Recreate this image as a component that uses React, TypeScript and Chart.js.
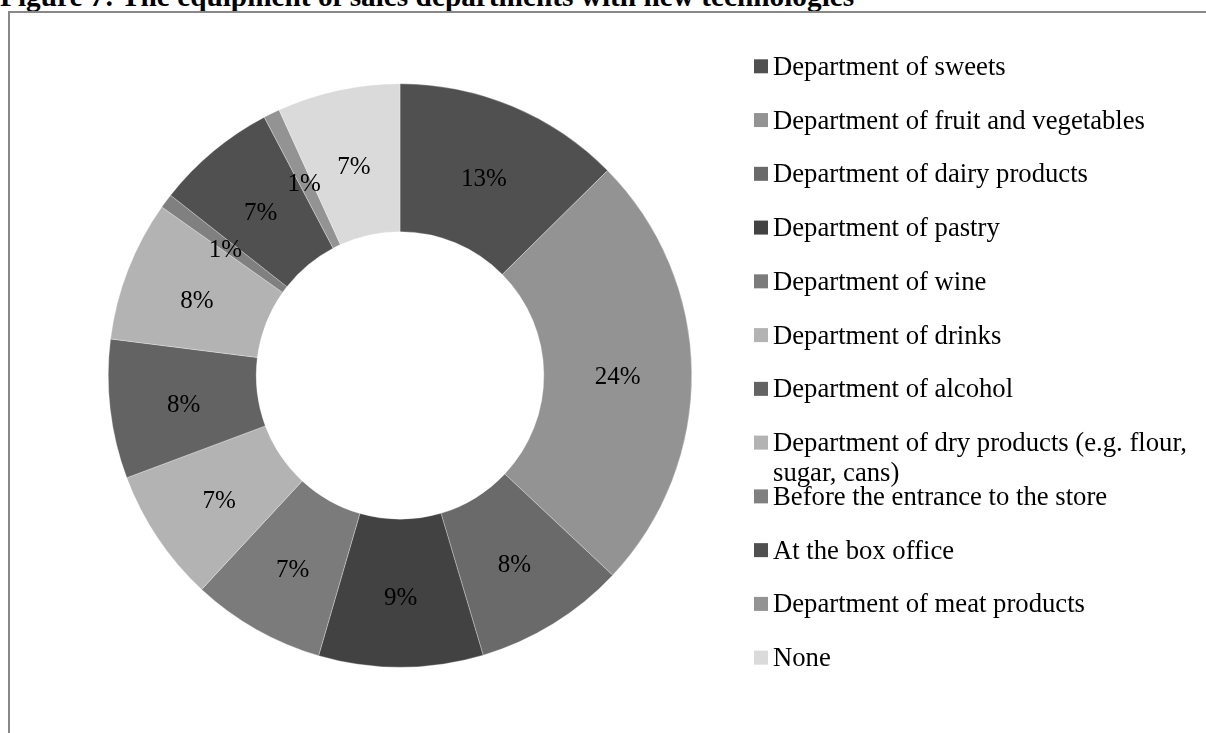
import React, { useEffect, useRef } from "react";
import { Chart, registerables } from "chart.js";

Chart.register(...registerables);

const titleText = "Figure 7: The equipment of sales departments with new technologies";

const categories: (string | string[])[] = [
  "Department of sweets",
  "Department of fruit and vegetables",
  "Department of dairy products",
  "Department of pastry",
  "Department of wine",
  "Department of drinks",
  "Department of alcohol",
  ["Department of dry products (e.g. flour,", "sugar, cans)"],
  "Before the entrance to the store",
  "At the box office",
  "Department of meat products",
  "None",
];

const shares = [12.6, 24.4, 8.4, 9.1, 7.4, 7.4, 7.7, 7.8, 0.8, 6.7, 0.9, 6.8];

const sliceColors = [
  "#505050",
  "#939393",
  "#6a6a6a",
  "#424242",
  "#7b7b7b",
  "#b3b3b3",
  "#636363",
  "#b3b3b3",
  "#808080",
  "#505050",
  "#939393",
  "#dadada",
];

const SERIF = '"Liberation Serif", "Times New Roman", serif';
const LABEL_FONT = 25;
const LEGEND_FONT = 26.7;

const sliceLabelPlugin = {
  id: "sliceLabels",
  afterDatasetsDraw(chart: any) {
    const ctx = chart.ctx;
    const meta = chart.getDatasetMeta(0);
    const data = chart.data.datasets[0].data as number[];
    ctx.save();
    ctx.font = `${LABEL_FONT}px ${SERIF}`;
    ctx.fillStyle = "#000000";
    ctx.textAlign = "center";
    ctx.textBaseline = "middle";
    meta.data.forEach((arc: any, i: number) => {
      const p = arc.getCenterPoint();
      ctx.fillText(Math.round(data[i]) + "%", p.x, p.y + 5);
    });
    ctx.restore();
  },
};

const sideLegendPlugin = {
  id: "sideLegend",
  afterDraw(chart: any) {
    const ctx = chart.ctx;
    const labels = chart.data.labels as (string | string[])[];
    const colors = chart.data.datasets[0].backgroundColor as string[];
    ctx.save();
    ctx.font = `${LEGEND_FONT}px ${SERIF}`;
    ctx.textAlign = "left";
    ctx.textBaseline = "alphabetic";
    labels.forEach((lab, i) => {
      const cy = 66.3 + 53.76 * i;
      ctx.fillStyle = colors[i];
      ctx.fillRect(754, cy - 7, 14, 14);
      ctx.fillStyle = "#000000";
      const lines = Array.isArray(lab) ? lab : [lab];
      lines.forEach((ln, j) => ctx.fillText(ln, 773, cy + 8.5 + j * 30));
    });
    ctx.restore();
  },
};

export default function App() {
  const canvasRef = useRef<HTMLCanvasElement | null>(null);

  useEffect(() => {
    if (!canvasRef.current) return;
    const chart = new Chart(canvasRef.current, {
      type: "doughnut",
      data: {
        labels: categories as any,
        datasets: [
          {
            data: shares,
            backgroundColor: sliceColors,
            borderColor: "rgba(255,255,255,0.6)",
            borderWidth: 0.5,
          },
        ],
      },
      options: {
        animation: false,
        responsive: false,
        maintainAspectRatio: false,
        cutout: "49.3%",
        layout: {
          padding: { left: 108, right: 514, top: 83.5, bottom: 65.5 },
        },
        plugins: {
          legend: { display: false },
          tooltip: { enabled: false },
          title: { display: false },
        },
      },
      plugins: [sliceLabelPlugin, sideLegendPlugin],
    });
    return () => chart.destroy();
  }, []);

  return (
    <div
      style={{
        position: "fixed",
        left: 0,
        top: 0,
        width: 1206,
        height: 733,
        overflow: "hidden",
        background: "#ffffff",
      }}
    >
      <div
        style={{
          position: "absolute",
          left: 0,
          top: -18,
          whiteSpace: "nowrap",
          fontFamily: SERIF,
          fontWeight: "bold",
          fontSize: 29.3,
          lineHeight: "29.3px",
          color: "#000",
        }}
      >
        {titleText}
      </div>
      <div
        style={{
          position: "absolute",
          left: 8,
          top: 11,
          width: 1300,
          height: 800,
          border: "2px solid #888888",
          boxSizing: "border-box",
        }}
      />
      <canvas
        ref={canvasRef}
        width={1206}
        height={733}
        style={{ position: "absolute", left: 0, top: 0, width: 1206, height: 733 }}
      />
    </div>
  );
}
